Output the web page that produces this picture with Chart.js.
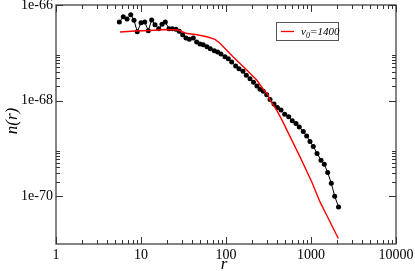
<!DOCTYPE html>
<html>
<head>
<meta charset="utf-8">
<script src="https://cdn.jsdelivr.net/npm/chart.js@4"></script>
<style>
  html, body { margin: 0; padding: 0; background: #fff; }
  #wrap { width: 415px; height: 271px; }
</style>
</head>
<body>
<div id="wrap"><canvas id="chart" width="415" height="271"></canvas></div>
<script>
// black dotted series: r and n(r)
const rData = [5.56, 6.19, 6.85, 7.57, 8.27, 9.04, 10.0, 11.06, 12.19, 13.36, 14.62, 16.15, 17.66, 19.31, 21.35, 23.35,
  25.8, 28.2, 30.9, 33.8, 37.0, 41.2, 45.2, 49.4, 54.0, 59.7, 65.3, 72.8, 79.8, 87.3, 97.3, 106.4, 116.7, 130.0,
  142.2, 158.5, 173.4, 191.6, 210.7, 231.1, 251.2, 274.7, 301.2, 329.4, 367.2, 401.6, 443.8, 490.5, 547, 602.6,
  666, 728, 811, 889, 973, 1064, 1177, 1312, 1433, 1571, 1733, 1900, 2108];
const nData = [4.40e-67, 5.69e-67, 5.09e-67, 6.26e-67, 4.79e-67, 2.76e-67, 4.26e-67, 4.40e-67, 2.90e-67, 4.85e-67,
  3.87e-67, 3.19e-67, 3.94e-67, 4.40e-67, 3.19e-67, 3.19e-67, 3.10e-67, 2.81e-67, 2.39e-67, 2.04e-67, 1.91e-67,
  2.04e-67, 1.68e-67, 1.52e-67, 1.47e-67, 1.34e-67, 1.22e-67, 1.10e-67, 1.04e-67, 9.42e-68, 8.27e-68, 7.50e-68,
  6.40e-68, 5.28e-68, 4.64e-68, 4.09e-68, 3.38e-68, 2.86e-68, 2.41e-68, 2.01e-68, 1.72e-68, 1.56e-68, 1.32e-68,
  1.06e-68, 8.45e-69, 7.21e-69, 6.33e-69, 5.21e-69, 4.58e-69, 3.78e-69, 3.33e-69, 2.79e-69, 2.26e-69, 1.81e-69,
  1.40e-69, 1.10e-69, 7.84e-70, 5.68e-70, 4.68e-70, 3.13e-70, 1.87e-70, 1.0e-70, 5.97e-71];

// red model curve, v0=1400
const rModel = [5.66, 8.50, 12.76, 19.1, 27.2, 34.8, 45.6, 59.7, 74.2, 85.0, 120.8, 175.3, 229.7, 287.6, 306.2,
  329.4, 394.6, 455.8, 742.6, 1019, 1276, 1531, 2095];
const nModel = [2.72e-67, 2.85e-67, 2.92e-67, 3.07e-67, 2.99e-67, 2.53e-67, 2.39e-67, 2.17e-67, 1.91e-67, 1.58e-67,
  8.26e-68, 4.36e-68, 2.69e-68, 1.53e-68, 1.42e-68, 1.02e-68, 6.33e-69, 3.91e-69, 6.65e-70, 2.00e-70, 7.60e-71,
  4.00e-71, 1.30e-71];

const xMajor = [1, 10, 100, 1000, 10000];
const xLabels = ['1', '10', '100', '1000', '10000'];
const yMajor = [1e-66, 1e-68, 1e-70];
const yLabels = ['1e-66', '1e-68', '1e-70'];

const toPts = (xs, ys) => xs.map((x, i) => ({ x: x, y: ys[i] }));

// minor ticks: 2..9 in every x decade, 2..9 above each y major (grace style)
const xMinor = [];
xMajor.slice(0, -1).forEach(m => { for (let k = 2; k <= 9; k++) xMinor.push(m * k); });
const yMinor = [];
yMajor.forEach(m => { for (let k = 2; k <= 9; k++) yMinor.push(m * k); });

const serif = '"Liberation Serif", "DejaVu Serif", serif';

const axesPlugin = {
  id: 'graceAxes',
  afterDraw(chart) {
    const ctx = chart.ctx;
    const a = chart.chartArea;
    const xs = chart.scales.x, ys = chart.scales.y;
    ctx.save();
    ctx.strokeStyle = '#333';
    ctx.lineWidth = 1.2;
    ctx.strokeRect(a.left, a.top, a.right - a.left, a.bottom - a.top);

    ctx.beginPath();
    const tickX = (v, len) => {
      const p = Math.round(xs.getPixelForValue(v)) + 0.5;
      ctx.moveTo(p, a.bottom); ctx.lineTo(p, a.bottom - len);
      ctx.moveTo(p, a.top); ctx.lineTo(p, a.top + len);
    };
    const tickY = (v, len) => {
      const p = Math.round(ys.getPixelForValue(v)) + 0.5;
      if (p < a.top) return;
      ctx.moveTo(a.left, p); ctx.lineTo(a.left + len, p);
      ctx.moveTo(a.right, p); ctx.lineTo(a.right - len, p);
    };
    xMajor.forEach(v => tickX(v, 7));
    xMinor.forEach(v => tickX(v, 4));
    yMajor.forEach(v => tickY(v, 7));
    yMinor.forEach(v => tickY(v, 4));
    ctx.lineWidth = 1;
    ctx.stroke();

    ctx.fillStyle = '#000';
    ctx.font = '14px ' + serif;
    ctx.textAlign = 'center';
    ctx.textBaseline = 'top';
    xMajor.forEach((v, i) => ctx.fillText(xLabels[i], xs.getPixelForValue(v), a.bottom + 4));
    ctx.textAlign = 'right';
    ctx.textBaseline = 'middle';
    yMajor.forEach((v, i) => ctx.fillText(yLabels[i], a.left - 3, ys.getPixelForValue(v)));

    // axis titles
    ctx.font = 'italic 17px ' + serif;
    ctx.textAlign = 'center';
    ctx.textBaseline = 'middle';
    ctx.fillText('r', (a.left + a.right) / 2 - 2, 265);
    ctx.save();
    ctx.translate(13, 121);
    ctx.rotate(-Math.PI / 2);
    ctx.fillText('n(r)', 0, 0);
    ctx.restore();

    // legend box
    ctx.strokeStyle = '#555';
    ctx.lineWidth = 1;
    ctx.strokeRect(276.5, 22.5, 62, 18);
    ctx.strokeStyle = '#ff0000';
    ctx.lineWidth = 1.3;
    ctx.beginPath();
    ctx.moveTo(281, 31.5); ctx.lineTo(294, 31.5);
    ctx.stroke();
    ctx.fillStyle = '#000';
    ctx.textAlign = 'left';
    ctx.textBaseline = 'alphabetic';
    ctx.font = 'italic 11px ' + serif;
    ctx.fillText('v', 301, 35);
    ctx.font = 'italic 8px ' + serif;
    ctx.fillText('0', 306, 38);
    ctx.font = 'italic 11px ' + serif;
    ctx.fillText('=1400', 310, 35);
    ctx.restore();
  }
};

new Chart(document.getElementById('chart'), {
  type: 'scatter',
  data: {
    datasets: [
      {
        label: 'data',
        data: toPts(rData, nData),
        showLine: true,
        borderColor: '#000',
        backgroundColor: '#000',
        borderWidth: 1,
        pointRadius: 2.5,
        pointBorderWidth: 0,
        order: 1
      },
      {
        label: 'v0=1400',
        data: toPts(rModel, nModel),
        showLine: true,
        borderColor: '#ff0000',
        borderWidth: 1.4,
        pointRadius: 0,
        order: 0
      }
    ]
  },
  options: {
    responsive: false,
    animation: false,
    devicePixelRatio: 1,
    layout: { padding: { left: 56, top: 5, right: 19, bottom: 27 } },
    plugins: { legend: { display: false }, tooltip: { enabled: false } },
    scales: {
      x: { type: 'logarithmic', min: 1, max: 10000, display: false },
      y: { type: 'logarithmic', min: 1e-71, max: 1e-66, display: false }
    }
  },
  plugins: [axesPlugin]
});
</script>
</body>
</html>
